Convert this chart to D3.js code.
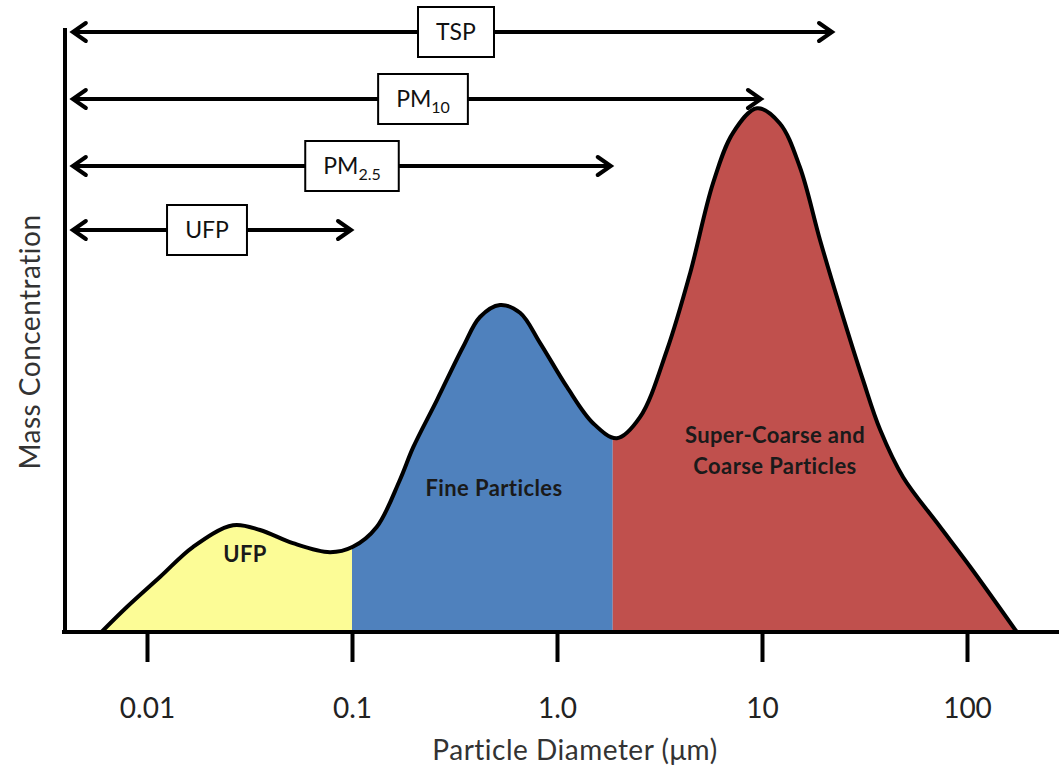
<!DOCTYPE html>
<html>
<head>
<meta charset="utf-8">
<script src="https://cdn.jsdelivr.net/npm/d3@7"></script>
<style>
  body { margin: 0; background: #fff; }
  svg { display: block; font-family: Lato, "Open Sans", sans-serif; }
</style>
</head>
<body>
<div class="chart"></div>
<script>
const width = 1059;
const height = 768;

// Particle diameter (µm) along the curve
const diameters = [0.006, 0.008, 0.0116, 0.0168, 0.0263, 0.0356, 0.0515, 0.0781, 0.101, 0.132,
    0.171, 0.199, 0.26, 0.348, 0.421, 0.527, 0.66, 0.826, 1.12, 1.5,
    1.96, 2.54, 3.44, 4.46, 5.77, 7.22, 9.46, 12.2, 15.3, 19.2,
    24.0, 31.1, 37.7, 48.8, 71.4, 104, 175];
// Mass concentration (arbitrary units, 0-100)
const concentration = [0, 4.2, 9.2, 14.2, 17.8, 17, 14.8, 13.3, 14.2, 17.5,
    25.3, 30.8, 38.7, 47.5, 52.5, 54.5, 53.2, 48.2, 40.8, 34.8,
    32.3, 35.8, 47, 59.8, 74.8, 83.2, 87.3, 84.8, 77.5, 65.3,
    54.2, 42, 33.7, 25.8, 18.2, 10.8, 0];

// Coloured bands under the curve
const bandNames = ["UFP", "Fine Particles", "Super-Coarse and Coarse Particles"];
const bandFrom = [0.006, 0.1, 1.87];
const bandTo = [0.1, 1.87, 175];
const bandColors = ["#fcfc96", "#4f81bd", "#c0504d"];

// Size classes shown as arrows
const classNames = ["TSP", "PM10", "PM2.5", "UFP"];
const classFrom = [0.0043, 0.0043, 0.0043, 0.0043];
const classTo = [22.2, 10, 1.85, 0.1];

const tickValues = [0.01, 0.1, 1, 10, 100];
const tickLabels = ["0.01", "0.1", "1.0", "10", "100"];

const svg = d3.select(".chart").append("svg")
    .attr("width", width)
    .attr("height", height);

const x = d3.scaleLog().domain([0.01, 100]).range([147, 967]);
const y = d3.scaleLinear().domain([0, 100]).range([632, 32]);

const points = diameters.map((d, i) => ({ d: d, v: concentration[i] }));

const area = d3.area()
    .x(p => x(p.d))
    .y0(y(0))
    .y1(p => y(p.v))
    .curve(d3.curveCatmullRom.alpha(0.5));

const line = d3.line()
    .x(p => x(p.d))
    .y(p => y(p.v))
    .curve(d3.curveCatmullRom.alpha(0.5));

const defs = svg.append("defs");

// one clip per band so the same area can be painted in three colours
bandNames.forEach((name, i) => {
    defs.append("clipPath").attr("id", "band" + i)
        .append("rect")
        .attr("x", x(bandFrom[i]))
        .attr("y", 0)
        .attr("width", x(bandTo[i]) - x(bandFrom[i]))
        .attr("height", y(0));
    svg.append("path")
        .datum(points)
        .attr("d", area)
        .attr("fill", bandColors[i])
        .attr("clip-path", "url(#band" + i + ")");
});

svg.append("path")
    .datum(points)
    .attr("d", line)
    .attr("fill", "none")
    .attr("stroke", "#000")
    .attr("stroke-width", 4)
    .attr("stroke-linejoin", "round");

// band labels
const bandLabelPos = [[245, 562], [494, 496], [775, 443]];
bandNames.forEach((name, i) => {
    const t = svg.append("text")
        .attr("x", bandLabelPos[i][0])
        .attr("y", bandLabelPos[i][1])
        .attr("text-anchor", "middle")
        .attr("font-size", 22)
        .attr("font-weight", "bold")
        .attr("letter-spacing", 0.4)
        .attr("fill", "#1a1a1a");
    if (i === 2) {
        t.append("tspan").attr("x", bandLabelPos[i][0]).text("Super-Coarse and");
        t.append("tspan").attr("x", bandLabelPos[i][0]).attr("dy", 31).text("Coarse Particles");
    } else {
        t.text(name);
    }
});

// axes
svg.append("line")
    .attr("x1", 65).attr("x2", 65)
    .attr("y1", 28).attr("y2", y(0) + 2)
    .attr("stroke", "#000").attr("stroke-width", 4);
svg.append("line")
    .attr("x1", 62).attr("x2", width)
    .attr("y1", y(0)).attr("y2", y(0))
    .attr("stroke", "#000").attr("stroke-width", 4);

const xAxis = d3.axisBottom(x)
    .tickValues(tickValues)
    .tickFormat((d, i) => tickLabels[i])
    .tickSize(30);

const gx = svg.append("g")
    .attr("transform", `translate(0, ${y(0)})`)
    .call(xAxis);
gx.select(".domain").remove();
gx.selectAll(".tick line").attr("stroke", "#000").attr("stroke-width", 4);
gx.selectAll(".tick text")
    .attr("y", 86)
    .attr("dy", null)
    .attr("font-family", "Lato, sans-serif")
    .attr("font-size", 28)
    .attr("fill", "#222");

svg.append("text")
    .attr("x", 575)
    .attr("y", 760)
    .attr("text-anchor", "middle")
    .attr("font-size", 28)
    .attr("letter-spacing", 0.5)
    .attr("fill", "#333")
    .text("Particle Diameter (μm)");

svg.append("text")
    .attr("transform", "translate(40, 342) rotate(-90)")
    .attr("text-anchor", "middle")
    .attr("font-size", 28)
    .attr("letter-spacing", 0.5)
    .attr("fill", "#333")
    .text("Mass Concentration");

// arrows for size classes
const arrowY = [32, 99, 166, 230];
const boxCenter = [456, 423, 352, 207];

defs.append("marker")
    .attr("id", "head")
    .attr("markerUnits", "userSpaceOnUse")
    .attr("viewBox", "-16 -12 20 24")
    .attr("markerWidth", 20)
    .attr("markerHeight", 24)
    .attr("refX", 0)
    .attr("refY", 0)
    .attr("orient", "auto-start-reverse")
    .append("path")
    .attr("d", "M-13,-9L0,0L-13,9")
    .attr("fill", "none")
    .attr("stroke", "#000")
    .attr("stroke-width", 4)
    .attr("stroke-linecap", "round")
    .attr("stroke-linejoin", "miter");

classNames.forEach((name, i) => {
    svg.append("line")
        .attr("x1", x(classFrom[i]) + 1)
        .attr("x2", x(classTo[i]) - 1)
        .attr("y1", arrowY[i])
        .attr("y2", arrowY[i])
        .attr("stroke", "#000")
        .attr("stroke-width", 4)
        .attr("marker-start", "url(#head)")
        .attr("marker-end", "url(#head)");

    const g = svg.append("g");
    const rect = g.append("rect")
        .attr("fill", "#fff")
        .attr("stroke", "#000")
        .attr("stroke-width", 2);
    const t = g.append("text")
        .attr("x", boxCenter[i])
        .attr("y", arrowY[i] + 8)
        .attr("text-anchor", "middle")
        .attr("font-size", 23)
        .attr("fill", "#111");
    if (name.startsWith("PM")) {
        t.append("tspan").text("PM");
        t.append("tspan").attr("font-size", 16).attr("dy", 6).text(name.slice(2));
    } else {
        t.text(name);
    }
    const w = t.node().getBBox().width + 36;
    rect.attr("x", boxCenter[i] - w / 2)
        .attr("y", arrowY[i] - 25)
        .attr("width", w)
        .attr("height", 50);
});
</script>
</body>
</html>
